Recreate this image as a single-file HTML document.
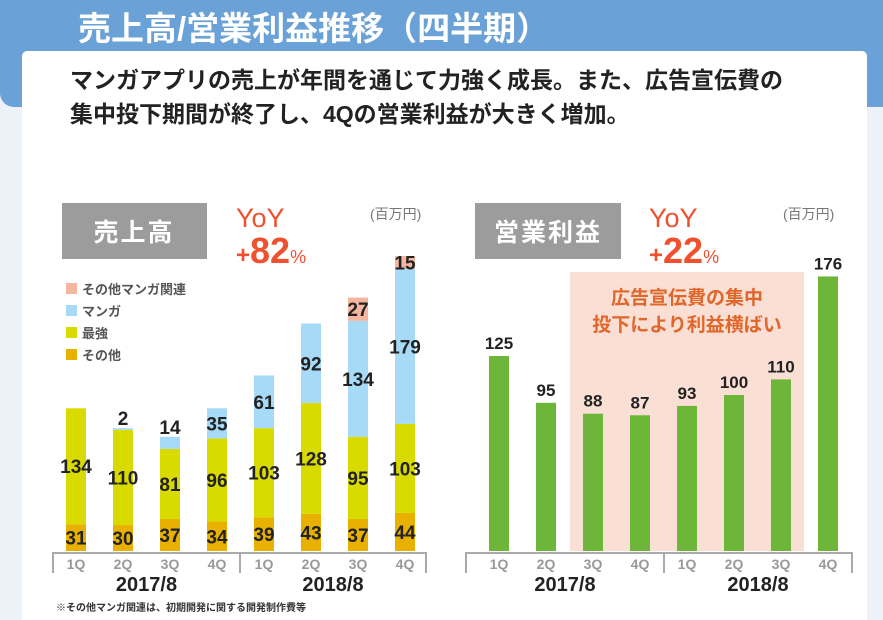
<!DOCTYPE html>
<html><head><meta charset="utf-8">
<style>
body{margin:0;width:883px;height:620px;overflow:hidden;background:#edf2f9;font-family:"Liberation Sans","Noto Sans CJK JP",sans-serif;}
#hdr{position:absolute;left:0;top:0;width:883px;height:107px;background:#6aa1d6;border-bottom-left-radius:14px;}
#title{position:absolute;left:78px;top:2px;color:#fff;font-size:33px;font-weight:bold;white-space:nowrap;}
#card{position:absolute;left:22px;top:51px;width:845px;height:569px;background:#fff;border-radius:5px 5px 0 0;}
#lead{position:absolute;left:70px;top:63px;font-size:23px;font-weight:bold;color:#222;line-height:34px;white-space:nowrap;}
svg{position:absolute;left:0;top:0;}
</style></head><body>
<div id="hdr"></div>
<div id="title">売上高/営業利益推移（四半期）</div>
<div id="card"></div>
<div id="lead">マンガアプリの売上が年間を通じて力強く成長。また、広告宣伝費の<br>集中投下期間が終了し、4Qの営業利益が大きく増加。</div>
<svg id="chart" width="883" height="620"></svg>
<script>
const quarters=["1Q","2Q","3Q","4Q","1Q","2Q","3Q","4Q"];
const years=["2017/8","2018/8"];
const other=[31,30,37,34,39,43,37,44];
const saikyo=[134,110,81,96,103,128,95,103];
const manga=[0,2,14,35,61,92,134,179];
const mangaOther=[0,0,0,0,0,0,27,15];
const profit=[125,95,88,87,93,100,110,176];
const NS="http://www.w3.org/2000/svg";
const svg=document.getElementById('chart');
function mk(t,a,txt){const e=document.createElementNS(NS,t);for(const k in a)e.setAttribute(k,a[k]);if(txt!==undefined)e.textContent=txt;svg.appendChild(e);return e;}
const base=551;
const ySales=v=>base-v*0.865;
const yProfit=v=>base-v*1.56;
const xS=i=>76+i*47;
const xP=i=>499+i*47;
const bw=20;
const series=[[other,"#e8b100"],[saikyo,"#d9db00"],[manga,"#a6daf7"],[mangaOther,"#f5b6a0"]];
const sNames=["other","saikyo","manga","manga-other"];
for(let i=0;i<quarters.length;i++){
  let cum=0;
  series.forEach((s,k)=>{
    const v=s[0][i];if(v<=0)return;
    const y0=ySales(cum),y1=ySales(cum+v);
    const r=mk('rect',{x:xS(i)-bw/2,y:y1,width:bw,height:y0-y1,fill:s[1]});
    
    
    let ly=(y0+y1)/2+7;
    if(k===2&&v<20)ly=y1-3;
    const t=mk('text',{x:xS(i),y:ly,'text-anchor':'middle','font-size':19,'font-weight':'bold',fill:'#222'},v);
    
    
    cum+=v;
  });
}
mk('rect',{x:570,y:272,width:234,height:279,fill:'#fadfd5'});
mk('text',{x:687,y:304,'text-anchor':'middle','font-size':19,'font-weight':'bold',fill:'#e0662a'},'広告宣伝費の集中');
mk('text',{x:687,y:331,'text-anchor':'middle','font-size':19,'font-weight':'bold',fill:'#e0662a'},'投下により利益横ばい');
for(let i=0;i<profit.length;i++){
  const y=yProfit(profit[i]);
  const r=mk('rect',{x:xP(i)-bw/2,y:y,width:bw,height:base-y,fill:'#6db63a'});
  
  
  const t=mk('text',{x:xP(i),y:y-7,'text-anchor':'middle','font-size':17,'font-weight':'bold',fill:'#222'},profit[i]);
  
  
}
function bracket(x0,x1,xm,xf){
  mk('path',{d:`M${x0} 573V553H${x1}V573M${xm} 553V573`,stroke:'#aaa','stroke-width':2,fill:'none'});
  quarters.forEach((q,i)=>mk('text',{x:xf(i),y:569,'text-anchor':'middle','font-size':14,fill:'#999','font-weight':'bold'},q));
  mk('text',{x:(x0+xm)/2,y:591,'text-anchor':'middle','font-size':20,'font-weight':'bold',fill:'#222'},years[0]);
  mk('text',{x:(xm+x1)/2,y:591,'text-anchor':'middle','font-size':20,'font-weight':'bold',fill:'#222'},years[1]);
}
bracket(53,426,240,xS);
bracket(466,852,664,xP);
mk('rect',{x:62,y:203,width:145,height:56,fill:'#9c9c9c'});
mk('text',{x:134,y:241,'text-anchor':'middle','font-size':25,'font-weight':'bold',fill:'#fff','letter-spacing':2},'売上高');
mk('rect',{x:475,y:203,width:146,height:56,fill:'#9c9c9c'});
mk('text',{x:548,y:241,'text-anchor':'middle','font-size':25,'font-weight':'bold',fill:'#fff','letter-spacing':2},'営業利益');
[[236,'82'],[649,'22']].forEach(([x,n])=>{
  mk('text',{x:x,y:227,'font-size':27,fill:'#f0502e'},'YoY');
  const t=mk('text',{x:x,y:263,'font-size':36,'font-weight':'bold',fill:'#f0502e'});
  t.innerHTML='<tspan font-size="24">+</tspan>'+n+'<tspan font-size="18" font-weight="normal">%</tspan>';
});
mk('text',{x:370,y:219,'font-size':14,fill:'#777'},'(百万円)');
mk('text',{x:783,y:219,'font-size':14,fill:'#777'},'(百万円)');
const legend=[["その他マンガ関連","#f5b6a0"],["マンガ","#a6daf7"],["最強","#d9db00"],["その他","#e8b100"]];
legend.forEach((l,i)=>{
  const y=289+i*22;
  mk('rect',{x:66,y:y-6,width:11,height:11,fill:l[1]});
  mk('text',{x:82,y:y+5,'font-size':13,'font-weight':'bold',fill:'#555'},l[0]);
});
mk('text',{x:56,y:611,'font-size':10,'font-weight':'bold',fill:'#333'},'※その他マンガ関連は、初期開発に関する開発制作費等');
</script>
</body></html>
